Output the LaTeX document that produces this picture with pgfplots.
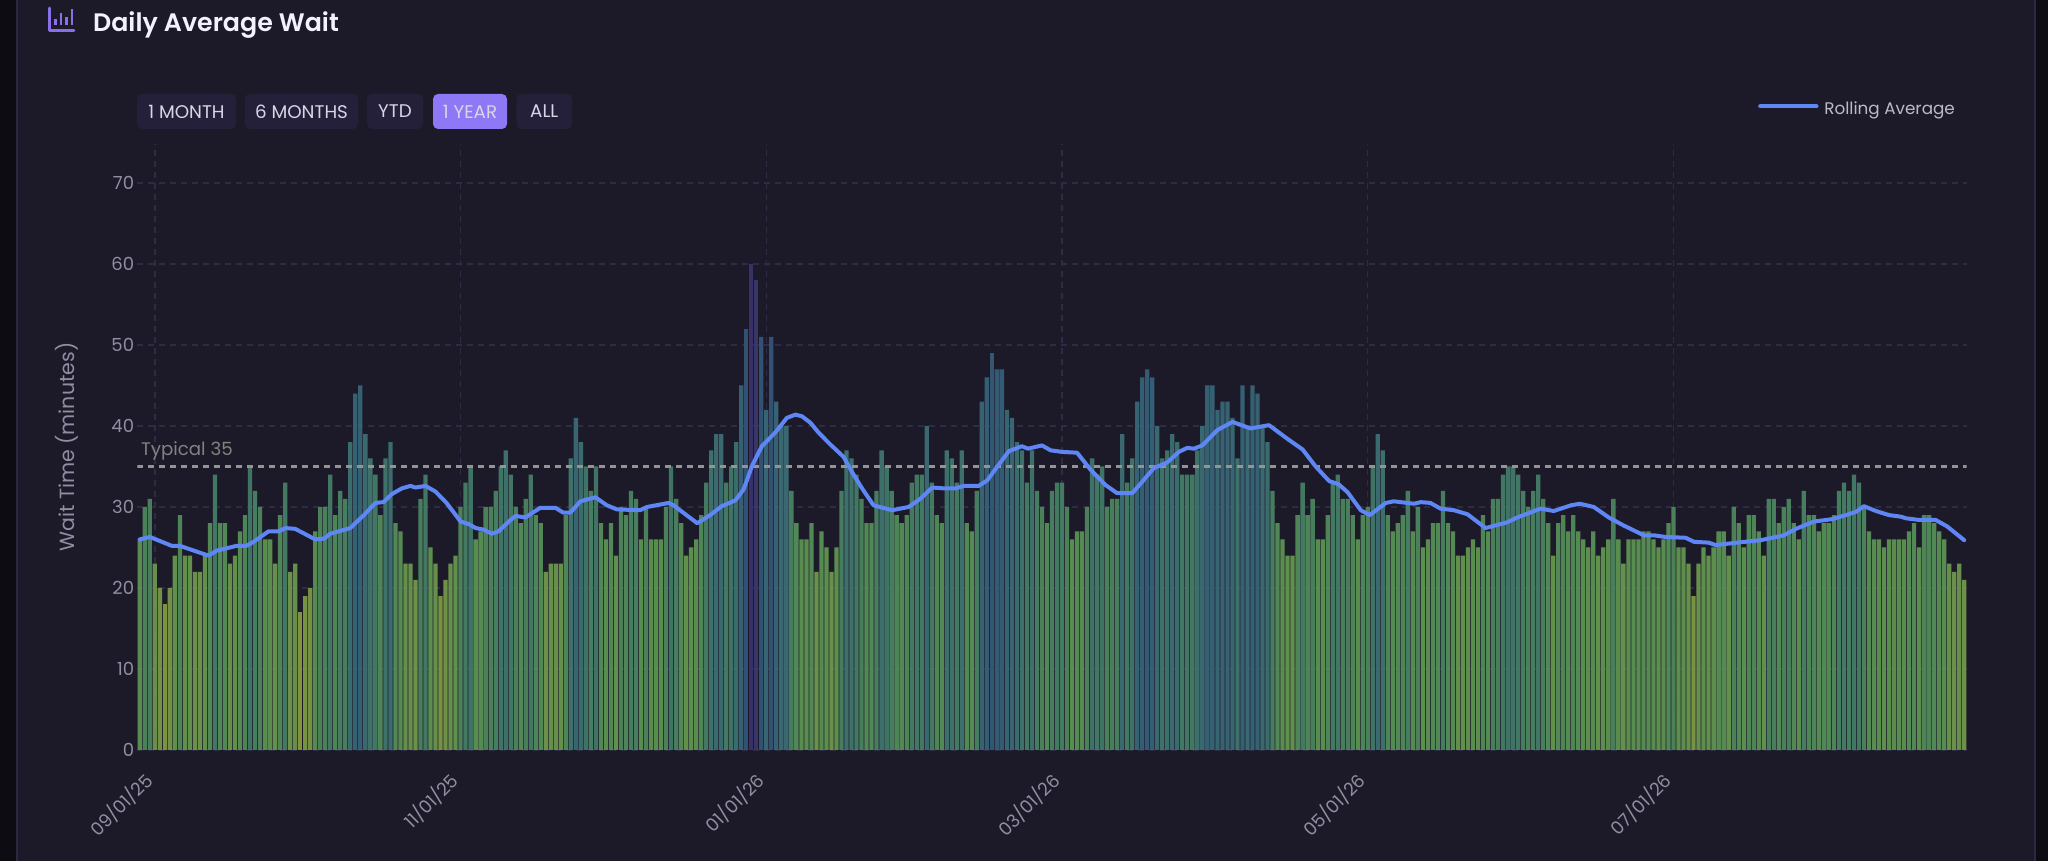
\documentclass[border=0pt]{standalone}
\usepackage{pgfplots}
\usepackage{pgfplotstable}
\usepackage{fontspec}
\pgfplotsset{compat=1.18}
\setmainfont{Poppins}
\newfontfamily\titlefont{Poppins SemiBold}
\definecolor{outerbg}{HTML}{0D0C12}
\definecolor{panelbg}{HTML}{1C1A29}
\definecolor{panelline}{HTML}{2B2840}
\definecolor{gridc}{HTML}{2F2B45}
\definecolor{tickc}{HTML}{918DA3}
\definecolor{btn}{HTML}{25203A}
\definecolor{btnon}{HTML}{8F78F5}
\definecolor{btntxt}{HTML}{D8D6E6}
\definecolor{purp}{HTML}{8A70E8}
\definecolor{linec}{HTML}{5F86F5}
\definecolor{typ}{HTML}{959491}
\definecolor{v17}{HTML}{8A9F3F}\definecolor{v18}{HTML}{859E42}\definecolor{v19}{HTML}{7F9D45}
\definecolor{v20}{HTML}{7A9C47}\definecolor{v21}{HTML}{759B4A}\definecolor{v22}{HTML}{719B4C}
\definecolor{v23}{HTML}{6C9A4E}\definecolor{v24}{HTML}{679950}\definecolor{v25}{HTML}{629852}
\definecolor{v26}{HTML}{5E9753}\definecolor{v27}{HTML}{5A9456}\definecolor{v28}{HTML}{569259}
\definecolor{v29}{HTML}{538F5B}\definecolor{v30}{HTML}{50895E}\definecolor{v31}{HTML}{4D8761}
\definecolor{v32}{HTML}{4A8564}\definecolor{v33}{HTML}{478166}\definecolor{v34}{HTML}{457F69}
\definecolor{v35}{HTML}{437C6B}\definecolor{v36}{HTML}{417A6E}\definecolor{v37}{HTML}{407771}
\definecolor{v38}{HTML}{3E7473}\definecolor{v39}{HTML}{3D7175}\definecolor{v40}{HTML}{3C6F77}
\definecolor{v41}{HTML}{3B6C78}\definecolor{v42}{HTML}{3A6B78}\definecolor{v43}{HTML}{396979}
\definecolor{v44}{HTML}{386879}\definecolor{v45}{HTML}{376679}\definecolor{v46}{HTML}{37647A}
\definecolor{v47}{HTML}{36617A}\definecolor{v49}{HTML}{365C7A}\definecolor{v51}{HTML}{365679}
\definecolor{v52}{HTML}{365479}\definecolor{v58}{HTML}{39396F}\definecolor{v60}{HTML}{3A346D}
\pgfplotstableread{
i v
0 26
1 30
2 31
3 23
4 20
5 18
6 20
7 24
8 29
9 24
10 24
11 22
12 22
13 24
14 28
15 34
16 28
17 28
18 23
19 24
20 27
21 29
22 35
23 32
24 30
25 26
26 26
27 23
28 29
29 33
30 22
31 23
32 17
33 19
34 20
35 27
36 30
37 30
38 34
39 29
40 32
41 31
42 38
43 44
44 45
45 39
46 36
47 34
48 29
49 36
50 38
51 28
52 27
53 23
54 23
55 21
56 31
57 34
58 25
59 23
60 19
61 21
62 23
63 24
64 30
65 33
66 35
67 26
68 27
69 30
70 30
71 32
72 35
73 37
74 34
75 30
76 28
77 31
78 34
79 29
80 28
81 22
82 23
83 23
84 23
85 29
86 36
87 41
88 38
89 35
90 32
91 35
92 28
93 26
94 28
95 24
96 30
97 29
98 32
99 31
100 26
101 30
102 26
103 26
104 26
105 30
106 35
107 31
108 28
109 24
110 25
111 26
112 29
113 33
114 37
115 39
116 39
117 33
118 35
119 38
120 45
121 52
122 60
123 58
124 51
125 42
126 51
127 43
128 40
129 40
130 32
131 28
132 26
133 26
134 28
135 22
136 27
137 25
138 22
139 25
140 32
141 37
142 36
143 34
144 31
145 28
146 28
147 32
148 37
149 35
150 32
151 29
152 28
153 29
154 33
155 34
156 34
157 40
158 33
159 29
160 28
161 37
162 36
163 33
164 37
165 28
166 27
167 32
168 43
169 46
170 49
171 47
172 47
173 42
174 41
175 38
176 37
177 33
178 37
179 32
180 30
181 28
182 32
183 33
184 33
185 30
186 26
187 27
188 27
189 30
190 36
191 34
192 35
193 30
194 31
195 31
196 39
197 33
198 36
199 43
200 46
201 47
202 46
203 40
204 36
205 37
206 39
207 38
208 34
209 34
210 34
211 37
212 40
213 45
214 45
215 42
216 43
217 43
218 41
219 36
220 45
221 40
222 45
223 44
224 40
225 38
226 32
227 28
228 26
229 24
230 24
231 29
232 33
233 29
234 31
235 26
236 26
237 29
238 33
239 34
240 31
241 31
242 29
243 26
244 29
245 30
246 35
247 39
248 37
249 29
250 27
251 28
252 29
253 32
254 27
255 30
256 25
257 26
258 28
259 28
260 32
261 28
262 27
263 24
264 24
265 25
266 26
267 25
268 29
269 27
270 31
271 31
272 34
273 35
274 35
275 34
276 32
277 30
278 32
279 34
280 31
281 28
282 24
283 28
284 29
285 27
286 29
287 27
288 26
289 25
290 27
291 24
292 25
293 26
294 31
295 26
296 23
297 26
298 26
299 26
300 27
301 27
302 26
303 25
304 26
305 28
306 30
307 25
308 25
309 23
310 19
311 23
312 25
313 24
314 25
315 27
316 27
317 24
318 30
319 28
320 25
321 29
322 29
323 27
324 24
325 31
326 31
327 28
328 30
329 31
330 28
331 26
332 32
333 29
334 29
335 27
336 28
337 28
338 29
339 32
340 33
341 32
342 34
343 33
344 30
345 27
346 26
347 26
348 25
349 26
350 26
351 26
352 26
353 27
354 28
355 25
356 29
357 29
358 28
359 27
360 26
361 23
362 22
363 23
364 21
}\barsdata
\pgfplotstableread{
i r
0 26.0
2 26.3
6.4 25.2
8 25.2
13.7 24.0
15.3 24.6
17.3 24.9
19.3 25.2
21.3 25.2
22.7 25.7
25.7 27.0
27.7 27.0
29.1 27.4
31 27.3
35 26.0
36.8 26.1
38 26.7
42 27.4
44.7 29.0
47 30.5
48.6 30.6
50.3 31.6
52.3 32.3
54 32.6
55 32.4
57 32.6
59 31.9
61.2 30.5
64 28.2
65.6 27.9
67 27.4
68.6 27.2
70.2 26.7
71.6 27.0
73.6 28.2
75 28.9
76.9 28.7
79.9 29.9
82.9 29.9
84.5 29.3
85.9 29.3
87.9 30.7
90.9 31.2
93.2 30.2
95.2 29.7
99.8 29.6
101.2 30.0
105.5 30.5
106.5 30.2
111.2 28.0
113.8 29.0
116.1 30.1
118.8 30.8
120.5 32.2
122.1 35.0
124.1 37.5
126.8 39.2
129.1 41.0
130.8 41.4
132.1 41.2
133.8 40.4
135.4 39.2
137.8 37.7
140.4 36.2
142.4 34.0
144.1 32.3
146.4 30.2
150.1 29.6
153.4 30.0
155.7 31.0
158.1 32.4
160.4 32.3
162.8 32.3
164.4 32.6
167.4 32.6
169.1 33.3
171.1 35.0
173.4 36.9
176.0 37.5
177.2 37.2
180 37.6
181.7 37.0
184 36.8
187 36.7
189.7 34.6
192.7 32.7
195 31.7
198 31.7
199.7 32.9
202.3 34.8
205 35.5
207.3 36.8
209 37.3
210.3 37.2
212 37.6
215 39.5
218 40.5
221.6 39.7
225.3 40.1
229 38.4
232 37.1
234.6 35.0
237.3 33.2
239.2 32.8
241 31.8
243.6 29.6
245.4 29.0
248.6 30.5
250.2 30.7
254.2 30.4
255.6 30.6
257.5 30.5
259.5 29.8
262.2 29.6
264.9 29.1
268.5 27.4
272.8 28.1
274.8 28.7
279.5 29.8
282.1 29.5
285.5 30.2
287.3 30.4
290.1 30.0
293.1 28.7
296.1 27.7
300.1 26.5
302.1 26.5
304.4 26.3
308.4 26.2
310.1 25.7
313 25.6
314.4 25.3
318.7 25.6
323.4 25.9
328 26.5
330.4 27.3
334 28.2
337.7 28.5
340.4 29.0
342.4 29.4
344 30.1
346.4 29.5
349 29.0
351.4 28.8
352.4 28.6
355 28.4
358.3 28.4
360.6 27.6
364 25.9
}\rolling
\newcommand{\tbar}[1]{%
  \addplot[ybar,bar shift=0pt,bar width=4.3pt,draw=none,fill=v#1,fill opacity=0.92,forget plot,
    restrict y to domain=#1:#1.2] table[x=i,y=v]{\barsdata};}
\begin{document}
\begin{tikzpicture}[x=1pt,y=1pt]
\path[use as bounding box] (0,0) rectangle (2048,861);
\fill[outerbg] (0,0) rectangle (2048,861);
\fill[panelbg] (17,-2) rectangle (2035,863);
\draw[panelline,line width=1.5pt] (17,-2) -- (17,863) (2035,-2) -- (2035,863);
% header icon
\draw[purp,line width=2.8pt,line cap=round,line join=round] (49.5,853) -- (49.5,830.5) -- (74,830.5);
\draw[purp,line width=2.8pt] (55.5,836) -- (55.5,842) (61,836) -- (61,848) (66.5,836) -- (66.5,844) (72,836) -- (72,852);
\node[anchor=west,text=white!90!purp,inner sep=0pt,font=\titlefont\fontsize{25.3}{25.3}\selectfont] at (93,836) {Daily Average Wait};
% range buttons
\foreach \a/\b/\t/\c/\tc in {137/236/1 MONTH/btn/btntxt,245/358/6 MONTHS/btn/btntxt,367/423/YTD/btn/btntxt,433/507/1 YEAR/btnon/btntxt,516.5/572/ALL/btn/btntxt}{
  \fill[\c,rounded corners=5pt] (\a,732) rectangle (\b,767);
  \node[text=\tc,inner sep=0pt,font=\fontsize{18.3}{18.3}\selectfont] at ({(\a+\b)/2},749.5) {\t};
}
\begin{axis}[
  at={(137.3pt,111pt)},anchor=south west,
  scale only axis,width=1829.4pt,height=605.9pt,
  xmin=-0.5,xmax=364.5,ymin=0,ymax=74.8,
  xtick={3,64,125,184,245,306},
  xticklabels={09/01/25,11/01/25,01/01/26,03/01/26,05/01/26,07/01/26},
  ytick={0,10,...,70},
  grid=major,
  major grid style={gridc,line width=1.4pt,dash pattern=on 6pt off 5pt},
  axis line style={draw=none},
  tick style={draw=none},
  /pgf/number format/assume math mode=true,
  yticklabel style={text=tickc,font=\fontsize{18}{18}\selectfont,inner xsep=3pt},
  xticklabel style={text=tickc,font=\fontsize{18}{18}\selectfont,rotate=45,anchor=north east,xshift=-23pt,yshift=-5pt,inner sep=0pt},
  ylabel={Wait Time (minutes)},
  ylabel style={at={(axis description cs:-0.0385,0.4998)},anchor=center,text=tickc,font=\fontsize{20.5}{20.5}\selectfont},
  legend style={at={(axis description cs:0.8859,1.0575)},anchor=west,draw=none,fill=none,
    text=btntxt!85!panelbg,font=\fontsize{16.8}{16.8}\selectfont,inner sep=0pt},
  legend image code/.code={\draw[linec,line width=4.4pt] (0pt,3pt) -- (56pt,3pt);\path[draw=none] (0pt,3pt) -- (62pt,3pt);},
  legend cell align=left,
]
\pgfplotsinvokeforeach{17,18,19,20,21,22,23,24,25,26,27,28,29,30,31,32,33,34,35,36,37,38,39,40,41,42,43,44,45,46,47,49,51,52,58,60}{\tbar{#1}}
\addplot[typ,line width=2.4pt,dash pattern=on 6pt off 5pt,forget plot] coordinates {(-0.5,35) (364.5,35)};
\addplot[linec,line width=4pt,line join=round,line cap=round] table[x=i,y=r]{\rolling};
\addlegendentry{Rolling Average}
\node[anchor=south west,text=typ!85!panelbg,inner sep=0pt,font=\fontsize{18.2}{18.2}\selectfont] at (axis cs:0.2,35.8) {Typical 35};
\end{axis}
\end{tikzpicture}
\end{document}
